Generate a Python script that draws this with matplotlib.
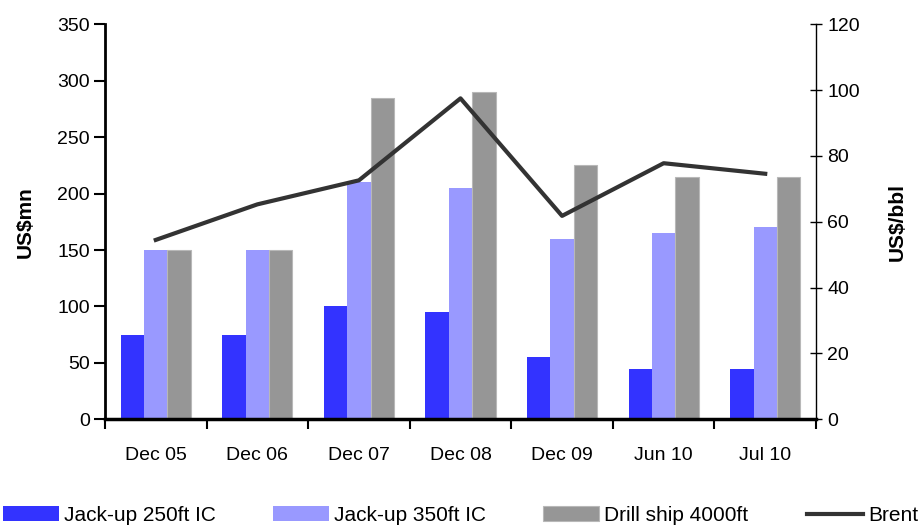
import numpy as np
import matplotlib.pyplot as plt

plt.rcParams['font.family'] = ['Liberation Sans', 'DejaVu Sans']

periods = ['Dec 05', 'Dec 06', 'Dec 07', 'Dec 08', 'Dec 09', 'Jun 10', 'Jul 10']
jackup_250 = [75, 75, 100, 95, 55, 45, 45]
jackup_350 = [150, 150, 210, 205, 160, 165, 170]
drillship_4000 = [150, 150, 285, 290, 225, 215, 215]
brent = [54.5, 65.3, 72.6, 97.5, 61.8, 77.8, 74.6]

fig = plt.figure(figsize=(9.21, 5.25), dpi=100)
ax = fig.add_axes([0.114, 0.2013, 0.772, 0.7524])
ax2 = ax.twinx()

x = np.arange(len(periods))
w = 0.23
b1 = ax.bar(x - w, jackup_250, w, color='#3333ff', label='Jack-up 250ft IC')
b2 = ax.bar(x, jackup_350, w, color='#9999ff', label='Jack-up 350ft IC')
b3 = ax.bar(x + w, drillship_4000, w, color='#969696', edgecolor='#b8b8b8',
            linewidth=0.8, label='Drill ship 4000ft')
ln, = ax2.plot(x, brent, color='#333333', lw=3, label='Brent')

ax.set_xlim(-0.5, len(periods) - 0.5)
ax.set_ylim(0, 350)
ax.set_yticks(range(0, 351, 50))
ax2.set_ylim(0, 120)
ax2.set_yticks(range(0, 121, 20))

# category ticks sit on the group boundaries
ax.set_xticks(np.arange(len(periods) + 1) - 0.5)
ax.set_xticklabels([])
ax.set_xticks(x, minor=True)
ax.set_xticklabels(periods, minor=True)
ax.tick_params(axis='x', which='major', direction='out', length=7, width=1.5)
ax.tick_params(axis='x', which='minor', length=0, pad=20, labelsize=14)
ax.tick_params(axis='y', direction='out', length=8, width=1.5, labelsize=14, pad=3)
ax2.tick_params(axis='y', direction='inout', length=8, width=1, labelsize=14, pad=4)

for s in ['top', 'right']:
    ax.spines[s].set_visible(False)
ax2.spines['top'].set_visible(False)
ax2.spines['left'].set_visible(False)
ax2.spines['bottom'].set_visible(False)
ax.spines['left'].set_linewidth(2)
ax.spines['bottom'].set_linewidth(2.5)
ax2.spines['right'].set_linewidth(1)

ax.set_ylabel('US$mn', fontsize=15, fontweight='bold', labelpad=16)
ax2.set_ylabel('US$/bbl', fontsize=15, fontweight='bold', rotation=90, labelpad=20)

# one legend entry per slot along the bottom edge
for h, left in zip([b1, b2, b3, ln], [3, 273, 543, 807]):
    fig.legend(handles=[h], loc='lower left', bbox_to_anchor=(left / 921, 0.0),
               frameon=False, fontsize=15, handlelength=2.7, handleheight=0.72,
               handletextpad=0.25, borderaxespad=0, borderpad=0)

fig.savefig('out.png', dpi=100)
